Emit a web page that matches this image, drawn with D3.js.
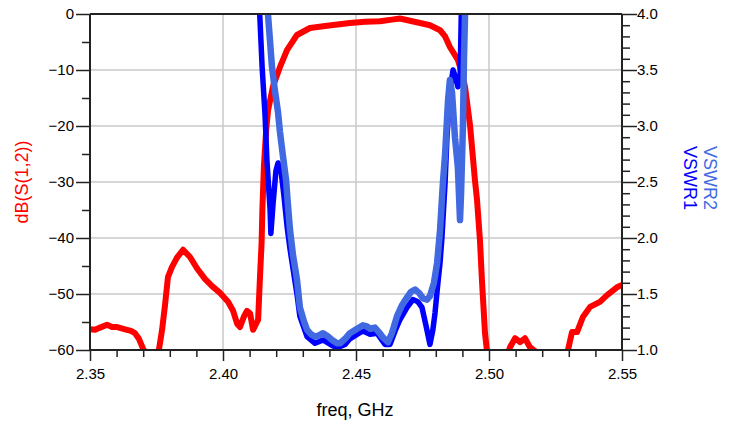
<!DOCTYPE html>
<html><head><meta charset="utf-8">
<script src="https://cdn.jsdelivr.net/npm/d3@7"></script>
<style>body{margin:0;background:#fff}svg{display:block}text{font-family:"Liberation Sans",Arial,sans-serif}</style>
</head><body>
<svg id="c" width="729" height="424"></svg>
<script>
// ---- data ----
const freqS12 = [2.3500,2.3519,2.3538,2.3564,2.3583,2.3602,2.3632,2.3654,2.3669,2.3684,2.3699,2.3714,2.3737,2.3752,2.3759,2.3771,2.3782,2.3793,2.3808,2.3827,2.3850,2.3876,2.3902,2.3932,2.3959,2.3989,2.4019,2.4038,2.4053,2.4064,2.4079,2.4090,2.4102,2.4113,2.4132,2.4139,2.4145,2.4148,2.4154,2.4162,2.4169,2.4188,2.4214,2.4241,2.4278,2.4327,2.4391,2.4477,2.4534,2.4590,2.4635,2.4665,2.4703,2.4741,2.4778,2.4816,2.4835,2.4853,2.4883,2.4898,2.4910,2.4929,2.4947,2.4955,2.4966,2.4974,2.4985,2.4992,2.5004,2.5041,2.5068,2.5079,2.5098,2.5117,2.5135,2.5154,2.5173,2.5211,2.5267,2.5297,2.5312,2.5331,2.5353,2.5380,2.5417,2.5444,2.5481,2.5500];
const dbS12 = [-56.3,-56.4,-56.0,-55.5,-55.9,-55.9,-56.3,-56.6,-57.0,-58.0,-59.7,-61,-62,-61,-60,-56.4,-52,-47.0,-45.2,-43.5,-42.1,-43.4,-45.4,-47.3,-48.6,-49.8,-51.4,-53,-55.3,-55.9,-54,-53,-53.5,-56.4,-54.6,-47,-41,-35,-27,-21,-17.3,-12.9,-9.5,-6.4,-3.75,-2.5,-2.1,-1.6,-1.4,-1.3,-1.0,-0.8,-1.2,-1.6,-2.0,-2.9,-4,-5.9,-8.2,-10.5,-13,-20,-29.6,-33.2,-40.4,-48,-57,-60,-63,-65,-61,-59.5,-57.9,-58.6,-57.9,-59.5,-60.2,-62,-62,-60,-56.8,-56.8,-54.1,-52.3,-51.4,-50.2,-48.8,-48.4];

const freqV1 = [2.4128,2.4135,2.4139,2.4147,2.4158,2.4165,2.4169,2.4177,2.4180,2.4188,2.4199,2.4207,2.4218,2.4229,2.4241,2.4252,2.4278,2.4289,2.4316,2.4346,2.4376,2.4410,2.4429,2.4459,2.4477,2.4504,2.4526,2.4553,2.4579,2.4609,2.4628,2.4647,2.4665,2.4692,2.4714,2.4733,2.4748,2.4763,2.4778,2.4789,2.4797,2.4808,2.4816,2.4823,2.4835,2.4842,2.4853,2.4861,2.4865,2.4872,2.4883,2.4891,2.4895,2.4898,2.4902];
const vswr1 = [4.6,4.15,3.95,3.53,3.1,2.7,2.55,2.25,2.04,2.3,2.6,2.67,2.6,2.38,2.1,1.9,1.5,1.3,1.12,1.06,1.09,1.04,1.02,1.05,1.10,1.14,1.17,1.14,1.15,1.05,1.05,1.17,1.27,1.38,1.45,1.43,1.38,1.22,1.05,1.18,1.33,1.6,1.78,2.0,2.5,2.9,3.3,3.44,3.5,3.45,3.35,3.38,3.9,4.3,5.0];

const freqV2 = [2.4162,2.4169,2.4177,2.4184,2.4195,2.4207,2.4214,2.4226,2.4237,2.4244,2.4252,2.4263,2.4278,2.4289,2.4305,2.4316,2.4331,2.4346,2.4361,2.4376,2.4395,2.4410,2.4429,2.4440,2.4459,2.4477,2.4504,2.4526,2.4541,2.4553,2.4571,2.4586,2.4602,2.4620,2.4635,2.4654,2.4673,2.4692,2.4707,2.4722,2.4737,2.4752,2.4767,2.4778,2.4793,2.4805,2.4816,2.4827,2.4835,2.4846,2.4853,2.4861,2.4872,2.4883,2.4891,2.4895,2.4902,2.4906,2.4910,2.4914];
const vswr2 = [4.4,4.0,3.75,3.53,3.32,3.12,2.95,2.72,2.52,2.3,2.07,1.85,1.63,1.38,1.25,1.18,1.14,1.12,1.13,1.15,1.12,1.09,1.06,1.06,1.10,1.15,1.19,1.22,1.21,1.19,1.20,1.16,1.11,1.07,1.15,1.30,1.40,1.47,1.52,1.54,1.51,1.46,1.45,1.48,1.60,1.78,2.07,2.50,2.75,3.23,3.41,3.30,2.90,2.63,2.16,2.40,3.00,3.60,4.00,4.50];

const xTicks = [2.35,2.40,2.45,2.50,2.55];
const xMinor = [2.36,2.37,2.38,2.39,2.41,2.42,2.43,2.44,2.46,2.47,2.48,2.49,2.51,2.52,2.53,2.54];
const yLTicks = [0,-10,-20,-30,-40,-50,-60];
const yLMinor = [-5,-15,-25,-35,-45,-55];
const yRTicks = [4.0,3.5,3.0,2.5,2.0,1.5,1.0];
const yRMinor = [3.9,3.8,3.7,3.6,3.4,3.3,3.2,3.1,2.9,2.8,2.7,2.6,2.4,2.3,2.2,2.1,1.9,1.8,1.7,1.6,1.4,1.3,1.2,1.1];

// ---- layout ----
const L = 90, R = 622, T = 14, B = 350;
const svg = d3.select("#c");
const x = d3.scaleLinear().domain([2.35,2.55]).range([L,R]);
const yL = d3.scaleLinear().domain([-60,0]).range([B,T]);
const yR = d3.scaleLinear().domain([1,4]).range([B,T]);

// grid
const grid = svg.append("g").attr("stroke","#c8c8c8").attr("stroke-width",1.5);
grid.selectAll("line.v").data(xTicks.slice(1,-1)).join("line")
  .attr("x1",d=>x(d)).attr("x2",d=>x(d)).attr("y1",T).attr("y2",B);
grid.selectAll("line.h").data(yLTicks.slice(1,-1)).join("line")
  .attr("y1",d=>yL(d)).attr("y2",d=>yL(d)).attr("x1",L).attr("x2",R);

// clip
svg.append("clipPath").attr("id","clip").append("rect")
  .attr("x",L).attr("y",T).attr("width",R-L).attr("height",B-T);
const plot = svg.append("g").attr("clip-path","url(#clip)");

const lineS = d3.line().x(d=>x(d[0])).y(d=>yL(d[1]));
const lineV = d3.line().x(d=>x(d[0])).y(d=>yR(d[1]));
function draw(g, path, color, w){
  g.append("path").attr("d",path).attr("fill","none").attr("stroke",color)
   .attr("stroke-width",w).attr("stroke-linejoin","round").attr("stroke-linecap","round");
}
draw(plot, lineS(d3.zip(freqS12,dbS12)), "#ff0000", 6);
draw(plot, lineV(d3.zip(freqV1,vswr1)), "#0000ff", 5.5);
draw(plot, lineV(d3.zip(freqV2,vswr2)), "#4169e1", 6.5);

// axes
function styleAxis(g){
  g.select(".domain").remove();
  g.selectAll(".tick line").attr("stroke","#222").attr("stroke-width",1.5);
  g.selectAll(".tick text").attr("fill","#000").attr("font-size","15px")
    .attr("font-family","'Liberation Sans',Arial,sans-serif");
}
svg.append("g").attr("transform",`translate(${L},0)`)
  .call(d3.axisLeft(yL).tickValues(yLTicks).tickSize(14).tickPadding(2).tickFormat(d3.format("d")))
  .call(styleAxis);
svg.append("g").attr("transform",`translate(${L},0)`)
  .call(d3.axisLeft(yL).tickValues(yLMinor).tickSize(8).tickFormat(""))
  .call(styleAxis);
svg.append("g").attr("transform",`translate(${R},0)`)
  .call(d3.axisRight(yR).tickValues(yRTicks).tickSize(15).tickPadding(0).tickFormat(d3.format(".1f")))
  .call(styleAxis);
svg.append("g").attr("transform",`translate(${R},0)`)
  .call(d3.axisRight(yR).tickValues(yRMinor).tickSize(8).tickFormat(""))
  .call(styleAxis);
svg.append("g").attr("transform",`translate(0,${B})`)
  .call(d3.axisBottom(x).tickValues(xTicks).tickSize(11).tickPadding(7).tickFormat(d3.format(".2f")))
  .call(styleAxis);
svg.append("g").attr("transform",`translate(0,${B})`)
  .call(d3.axisBottom(x).tickValues(xMinor).tickSize(7).tickFormat(""))
  .call(styleAxis);

// frame lines
const fr = svg.append("g").attr("stroke","#222").attr("stroke-width",2);
fr.append("line").attr("x1",L).attr("x2",R).attr("y1",T).attr("y2",T);
fr.append("line").attr("x1",L).attr("x2",R).attr("y1",B).attr("y2",B);
fr.append("line").attr("x1",L).attr("x2",L).attr("y1",T).attr("y2",B);
fr.append("line").attr("x1",R).attr("x2",R).attr("y1",T).attr("y2",B);

// labels
svg.append("text").attr("x",(L+R)/2 - 1).attr("y",416).attr("text-anchor","middle")
  .attr("font-size","18px").attr("fill","#000").text("freq, GHz");
svg.append("text").attr("transform","translate(22,182) rotate(-90)").attr("text-anchor","middle")
  .attr("dominant-baseline","central").attr("font-size","18px").attr("fill","#ff0000").text("dB(S(1,2))");
svg.append("text").attr("transform","translate(690,146) rotate(90)").attr("text-anchor","start")
  .attr("dominant-baseline","central").attr("font-size","18px").attr("fill","#0000ff").text("VSWR1");
svg.append("text").attr("transform","translate(710,146) rotate(90)").attr("text-anchor","start")
  .attr("dominant-baseline","central").attr("font-size","18px").attr("fill","#4169e1").text("VSWR2");
</script>
</body></html>
